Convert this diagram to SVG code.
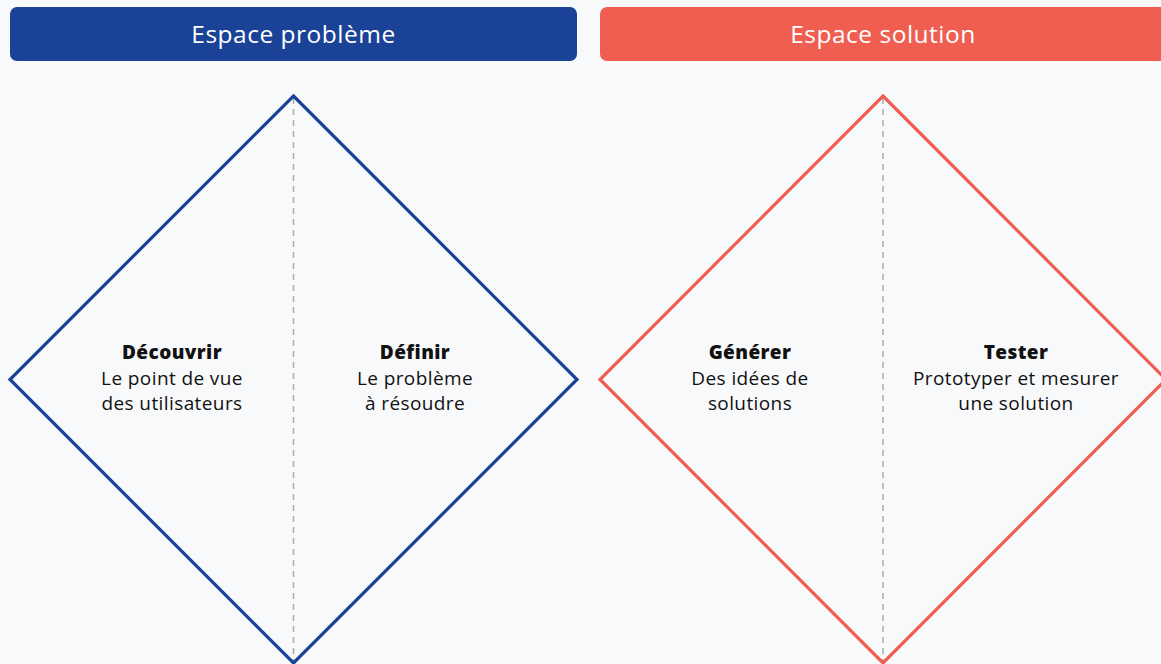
<svg xmlns="http://www.w3.org/2000/svg" width="1161" height="664" viewBox="0 0 1161 664">
<style>
.hdr{font-family:"Open Sans","Liberation Sans",sans-serif;font-size:24.5px;letter-spacing:0.5px;fill:#fff;text-anchor:middle}
.t{font-family:"Open Sans","Liberation Sans",sans-serif;font-size:19px;letter-spacing:0.4px;fill:#111;text-anchor:middle}
.b{font-weight:800}
.dia{fill:none;stroke-width:3.2;stroke-linejoin:miter}
.axis{stroke:#aaaaaa;stroke-width:1.5;stroke-dasharray:6 5;fill:none}
</style>
<rect x="0" y="0" width="1161" height="664" fill="#f8f9fb"/>
<g id="header-probleme">
<rect x="10" y="7" width="567" height="54" rx="7" fill="#1a4296"/>
<text class="hdr" x="293.5" y="43">Espace problème</text>
</g>
<g id="header-solution">
<rect x="600" y="7" width="575" height="54" rx="7" fill="#ef5e50"/>
<text class="hdr" x="883" y="43">Espace solution</text>
</g>
<g id="connectors">
<line class="axis" x1="293.5" y1="98" x2="293.5" y2="663"/>
<line class="axis" x1="883" y1="98" x2="883" y2="663"/>
</g>
<g id="diamond-probleme">
<polygon class="dia" stroke="#1a4296" points="293.5,96 577,379.5 293.5,663 10,379.5"/>
</g>
<g id="diamond-solution">
<polygon class="dia" stroke="#ef5e50" points="883,96 1166,379.5 883,663 600,379.5"/>
</g>
<g id="decouvrir">
<text class="t" x="172" y="359"><tspan class="b">Découvrir</tspan><tspan x="172" y="385">Le point de vue</tspan><tspan x="172" y="410">des utilisateurs</tspan></text>
</g>
<g id="definir">
<text class="t" x="415" y="359"><tspan class="b">Définir</tspan><tspan x="415" y="385">Le problème</tspan><tspan x="415" y="410">à résoudre</tspan></text>
</g>
<g id="generer">
<text class="t" x="750" y="359"><tspan class="b">Générer</tspan><tspan x="750" y="385">Des idées de</tspan><tspan x="750" y="410">solutions</tspan></text>
</g>
<g id="tester">
<text class="t" x="1016" y="359"><tspan class="b">Tester</tspan><tspan x="1016" y="385">Prototyper et mesurer</tspan><tspan x="1016" y="410">une solution</tspan></text>
</g>
</svg>
